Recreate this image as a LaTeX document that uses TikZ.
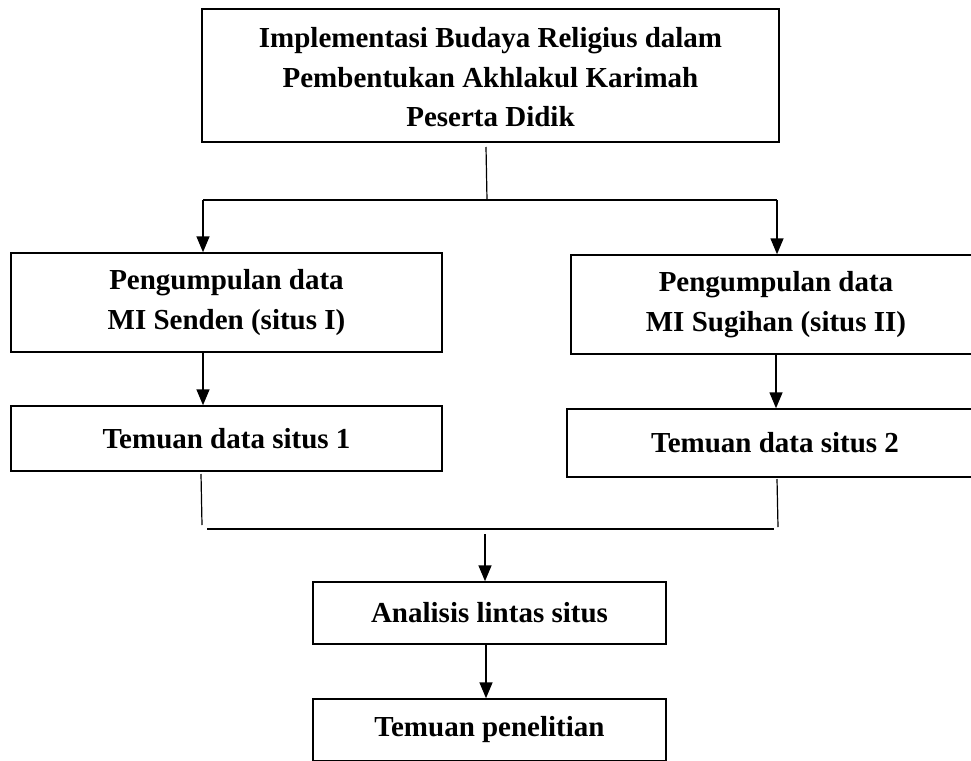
\documentclass[tikz,border=0pt]{standalone}
\usepackage{fontspec}
\setmainfont{Liberation Serif}
\usetikzlibrary{arrows.meta}
\begin{document}
\begin{tikzpicture}[x=1pt,y=-1pt,
  box/.style={draw, line width=1.5pt, inner sep=0pt, align=center,
    font=\fontsize{29}{39.5}\selectfont\bfseries},
  arr/.style={line width=1.6pt, -{Triangle[width=13pt,length=16pt]}},
  ln/.style={line width=1.5pt},
  stem/.style={line width=1.2pt}]
\useasboundingbox (0,0) rectangle (971,760);
\clip (0,0) rectangle (971,760);
% boxes
\node[box, minimum width=577pt, minimum height=133pt] (top) at (490.5,75.5)
  {\raisebox{-4pt}[\height][\depth]{\begin{tabular}{@{}c@{}}Implementasi Budaya Religius dalam\\Pembentukan Akhlakul Karimah\\Peserta Didik\end{tabular}}};
\node[box, minimum width=431pt, minimum height=99pt] (l1) at (226.5,302.5)
  {Pengumpulan data\\MI Senden (situs I)};
\node[box, minimum width=410pt, minimum height=99pt] (r1) at (776,304.5)
  {Pengumpulan data\\MI Sugihan (situs II)};
\node[box, minimum width=431pt, minimum height=65pt] (l2) at (226.5,438.5)
  {Temuan data situs 1};
\node[box, minimum width=416pt, minimum height=68pt] (r2) at (775,443)
  {Temuan data situs 2};
\node[box, minimum width=353pt, minimum height=62pt] (an) at (489.5,613)
  {Analisis lintas situs};
\node[box, minimum width=353pt, minimum height=62pt] (tp) at (489.5,730)
  {Temuan penelitian};
% junction coordinates
\coordinate (s1) at (486,147);
\coordinate (j1) at (487,200);
\coordinate (jl) at (203,200);
\coordinate (jr) at (777,200);
\coordinate (sl) at (201,474);
\coordinate (sle) at (202,525);
\coordinate (sr) at (777,479);
\coordinate (sre) at (778,527);
\coordinate (hl) at (207,529);
\coordinate (hr) at (774,529);
\coordinate (ja) at (485,534);
% connectors
\draw[stem] (s1) -- (j1);
\draw[ln] (jl) -- (jr);
\draw[arr] (jl) -- (jl |- l1.north);
\draw[arr] (jr) -- (jr |- r1.north);
\draw[arr] (203,0 |- l1.south) -- (203,0 |- l2.north);
\draw[arr] (776,0 |- r1.south) -- (776,0 |- r2.north);
\draw[stem] (sl) -- (sle);
\draw[stem] (sr) -- (sre);
\draw[ln] (hl) -- (hr);
\draw[arr] (ja) -- (ja |- an.north);
\draw[arr] (486,0 |- an.south) -- (486,0 |- tp.north);
\end{tikzpicture}
\end{document}
